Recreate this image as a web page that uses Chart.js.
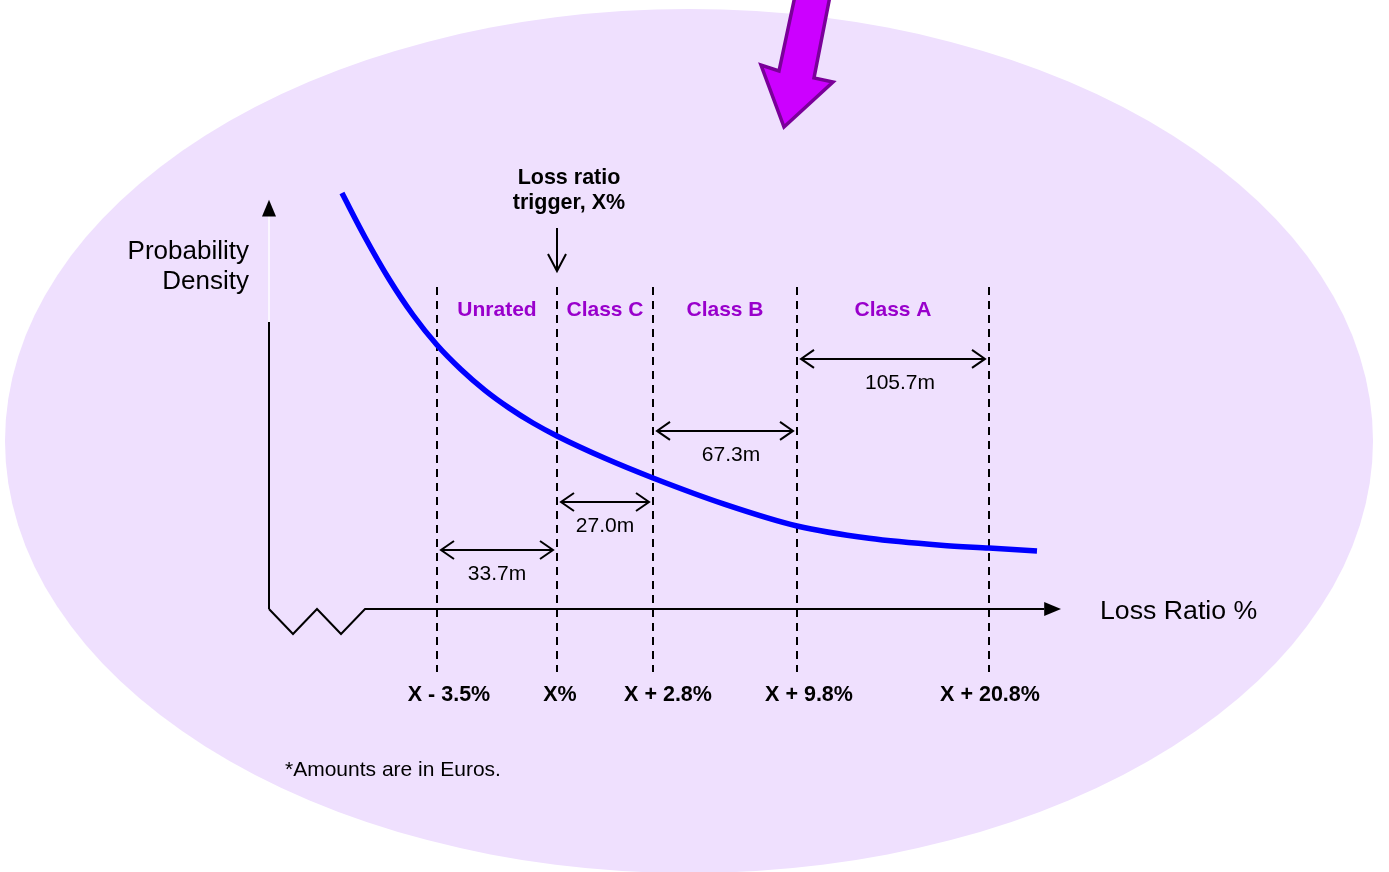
<!DOCTYPE html>
<html>
<head>
<meta charset="utf-8">
<title>Loss ratio tranches</title>
<script src="https://cdn.jsdelivr.net/npm/chart.js@4/dist/chart.umd.min.js"></script>
<style>
  html, body { margin: 0; padding: 0; background: #ffffff; }
  #wrap { width: 1389px; height: 872px; position: relative; }
  canvas { display: block; }
</style>
</head>
<body>
<div id="wrap"><canvas id="chart" width="1389" height="872"></canvas></div>
<script>
// Probability density of the loss ratio (axis units along the loss-ratio line)
const curveX = [-3.96, -3, -2, -1, 0, 1, 2, 3, 4, 5, 7, 9, 12, 15, 18, 21, 23, 25];
const curveY = [17.33, 15.49, 13.75, 12.25, 11.0, 9.98, 9.11, 8.38, 7.75, 7.21, 6.28, 5.46, 4.36, 3.46, 2.95, 2.66, 2.54, 2.42];

// Tranche boundaries on the loss-ratio axis and their labels
const boundaryPos = [0, 5, 9, 15, 23];
const boundaryLabels = ['X - 3.5%', 'X%', 'X + 2.8%', 'X + 9.8%', 'X + 20.8%'];

// Tranches between consecutive boundaries
const trancheNames = ['Unrated', 'Class C', 'Class B', 'Class A'];
const trancheAmounts = [33.7, 27.0, 67.3, 105.7];   // millions of euros
const trancheArrowLevel = [2.46, 4.46, 7.42, 10.42];

// Layout tweaks for text placement (pixels)
const boundaryLabelShift = [12, 3, 15, 12, 1];
const amountLabelShift = [0, 0, 6, 7];

const FONT = '"Liberation Sans", Arial, Helvetica, sans-serif';

function arrowHeadOpen(ctx, tx, ty, dx, dy, len, half) {
  // open V head pointing along (dx, dy)
  const n = Math.hypot(dx, dy); const ux = dx / n, uy = dy / n;
  const px = -uy, py = ux;
  ctx.beginPath();
  ctx.moveTo(tx - ux * len + px * half, ty - uy * len + py * half);
  ctx.lineTo(tx, ty);
  ctx.lineTo(tx - ux * len - px * half, ty - uy * len - py * half);
  ctx.stroke();
}

const backdrop = {
  id: 'backdrop',
  beforeDraw(chart) {
    const ctx = chart.ctx;
    ctx.save();
    ctx.fillStyle = '#ffffff';
    ctx.fillRect(0, 0, chart.width, chart.height);
    ctx.fillStyle = '#EFE0FE';
    ctx.beginPath();
    ctx.ellipse(689, 441, 684, 432, 0, 0, Math.PI * 2);
    ctx.fill();
    ctx.restore();
  }
};

const diagram = {
  id: 'diagram',
  beforeDatasetsDraw(chart) {
    const ctx = chart.ctx;
    const xs = chart.scales.x, ys = chart.scales.y;
    const X = v => xs.getPixelForValue(v);
    const Y = v => ys.getPixelForValue(v);
    ctx.save();
    ctx.strokeStyle = '#000';
    ctx.fillStyle = '#000';
    ctx.lineWidth = 2;
    ctx.lineCap = 'butt';

    // vertical axis
    const ax = X(xs.min), y0 = Y(0);
    ctx.beginPath();
    ctx.moveTo(ax, y0);
    ctx.lineTo(ax, Y(11.96));
    ctx.stroke();
    ctx.strokeStyle = 'rgba(255,255,255,0.7)';
    ctx.beginPath();
    ctx.moveTo(ax, Y(11.96));
    ctx.lineTo(ax, Y(16.4));
    ctx.stroke();
    ctx.beginPath();
    ctx.moveTo(ax, Y(17.05));
    ctx.lineTo(ax - 7, Y(16.35));
    ctx.lineTo(ax + 7, Y(16.35));
    ctx.closePath();
    ctx.fill();

    // horizontal axis with a break near the origin
    ctx.strokeStyle = '#000';
    ctx.beginPath();
    ctx.moveTo(ax, y0);
    ctx.lineTo(X(-6), Y(-1.04));
    ctx.lineTo(X(-5), y0);
    ctx.lineTo(X(-4), Y(-1.04));
    ctx.lineTo(X(-3), y0);
    ctx.lineTo(X(25.3), y0);
    ctx.stroke();
    ctx.beginPath();
    ctx.moveTo(X(xs.max), y0);
    ctx.lineTo(X(25.3), y0 - 7);
    ctx.lineTo(X(25.3), y0 + 7);
    ctx.closePath();
    ctx.fill();

    // tranche boundaries
    ctx.setLineDash([8, 6]);
    boundaryPos.forEach(p => {
      ctx.beginPath();
      ctx.moveTo(X(p), Y(13.42));
      ctx.lineTo(X(p), Y(-2.63));
      ctx.stroke();
    });
    ctx.setLineDash([]);

    // boundary labels
    ctx.font = 'bold 21.5px ' + FONT;
    ctx.textAlign = 'center';
    ctx.textBaseline = 'middle';
    boundaryPos.forEach((p, i) => {
      ctx.fillText(boundaryLabels[i], X(p) + boundaryLabelShift[i], Y(-3.5) + 2);
    });

    // tranche names
    ctx.font = 'bold 21px ' + FONT;
    ctx.fillStyle = '#9900CC';
    trancheNames.forEach((n, i) => {
      ctx.fillText(n, (X(boundaryPos[i]) + X(boundaryPos[i + 1])) / 2, Y(12.46));
    });

    // tranche sizes
    ctx.fillStyle = '#000';
    ctx.font = '21px ' + FONT;
    trancheAmounts.forEach((amt, i) => {
      const x1 = X(boundaryPos[i]) + 4, x2 = X(boundaryPos[i + 1]) - 4;
      const yy = Y(trancheArrowLevel[i]);
      ctx.beginPath();
      ctx.moveTo(x1, yy);
      ctx.lineTo(x2, yy);
      ctx.stroke();
      arrowHeadOpen(ctx, x1, yy, -1, 0, 13, 9);
      arrowHeadOpen(ctx, x2, yy, 1, 0, 13, 9);
      ctx.fillText(amt.toFixed(1) + 'm', (x1 + x2) / 2 + amountLabelShift[i], yy + 24);
    });

    // trigger marker
    const tx = X(boundaryPos[1]);
    ctx.beginPath();
    ctx.moveTo(tx, 228);
    ctx.lineTo(tx, 271);
    ctx.stroke();
    arrowHeadOpen(ctx, tx, 271, 0, 1, 17, 9);
    ctx.font = 'bold 21.5px ' + FONT;
    ctx.fillText('Loss ratio', 569, 178);
    ctx.fillText('trigger, X%', 569, 203);

    // axis titles
    ctx.font = '26px ' + FONT;
    ctx.textAlign = 'right';
    ctx.fillText('Probability', 249, 252);
    ctx.fillText('Density', 249, 282);
    ctx.font = '26.7px ' + FONT;
    ctx.textAlign = 'left';
    ctx.fillText('Loss Ratio %', 1100, 612);

    // note
    ctx.font = '21px ' + FONT;
    ctx.fillText('*Amounts are in Euros.', 285, 770);

    // pointer arrow at the top
    ctx.beginPath();
    ctx.moveTo(795, -4);
    ctx.lineTo(830, -4);
    ctx.lineTo(814, 78);
    ctx.lineTo(833, 82);
    ctx.lineTo(784, 127);
    ctx.lineTo(761, 65);
    ctx.lineTo(779, 71);
    ctx.closePath();
    ctx.fillStyle = '#CC00FF';
    ctx.fill();
    ctx.lineJoin = 'miter';
    ctx.lineWidth = 3.5;
    ctx.strokeStyle = '#7A0099';
    ctx.stroke();
    ctx.restore();
  }
};

new Chart(document.getElementById('chart'), {
  type: 'line',
  data: {
    datasets: [{
      data: curveX.map((x, i) => ({ x, y: curveY[i] })),
      borderColor: '#0000FF',
      borderWidth: 5.5,
      pointRadius: 0,
      cubicInterpolationMode: 'monotone',
      fill: false,
      clip: false
    }]
  },
  options: {
    responsive: false,
    animation: false,
    events: [],
    layout: { padding: { left: 269, right: 328, top: 129, bottom: 263 } },
    plugins: { legend: { display: false }, tooltip: { enabled: false } },
    scales: {
      x: { type: 'linear', min: -7, max: 26, display: false },
      y: { type: 'linear', min: 0, max: 20, display: false }
    }
  },
  plugins: [backdrop, diagram]
});
</script>
</body>
</html>
